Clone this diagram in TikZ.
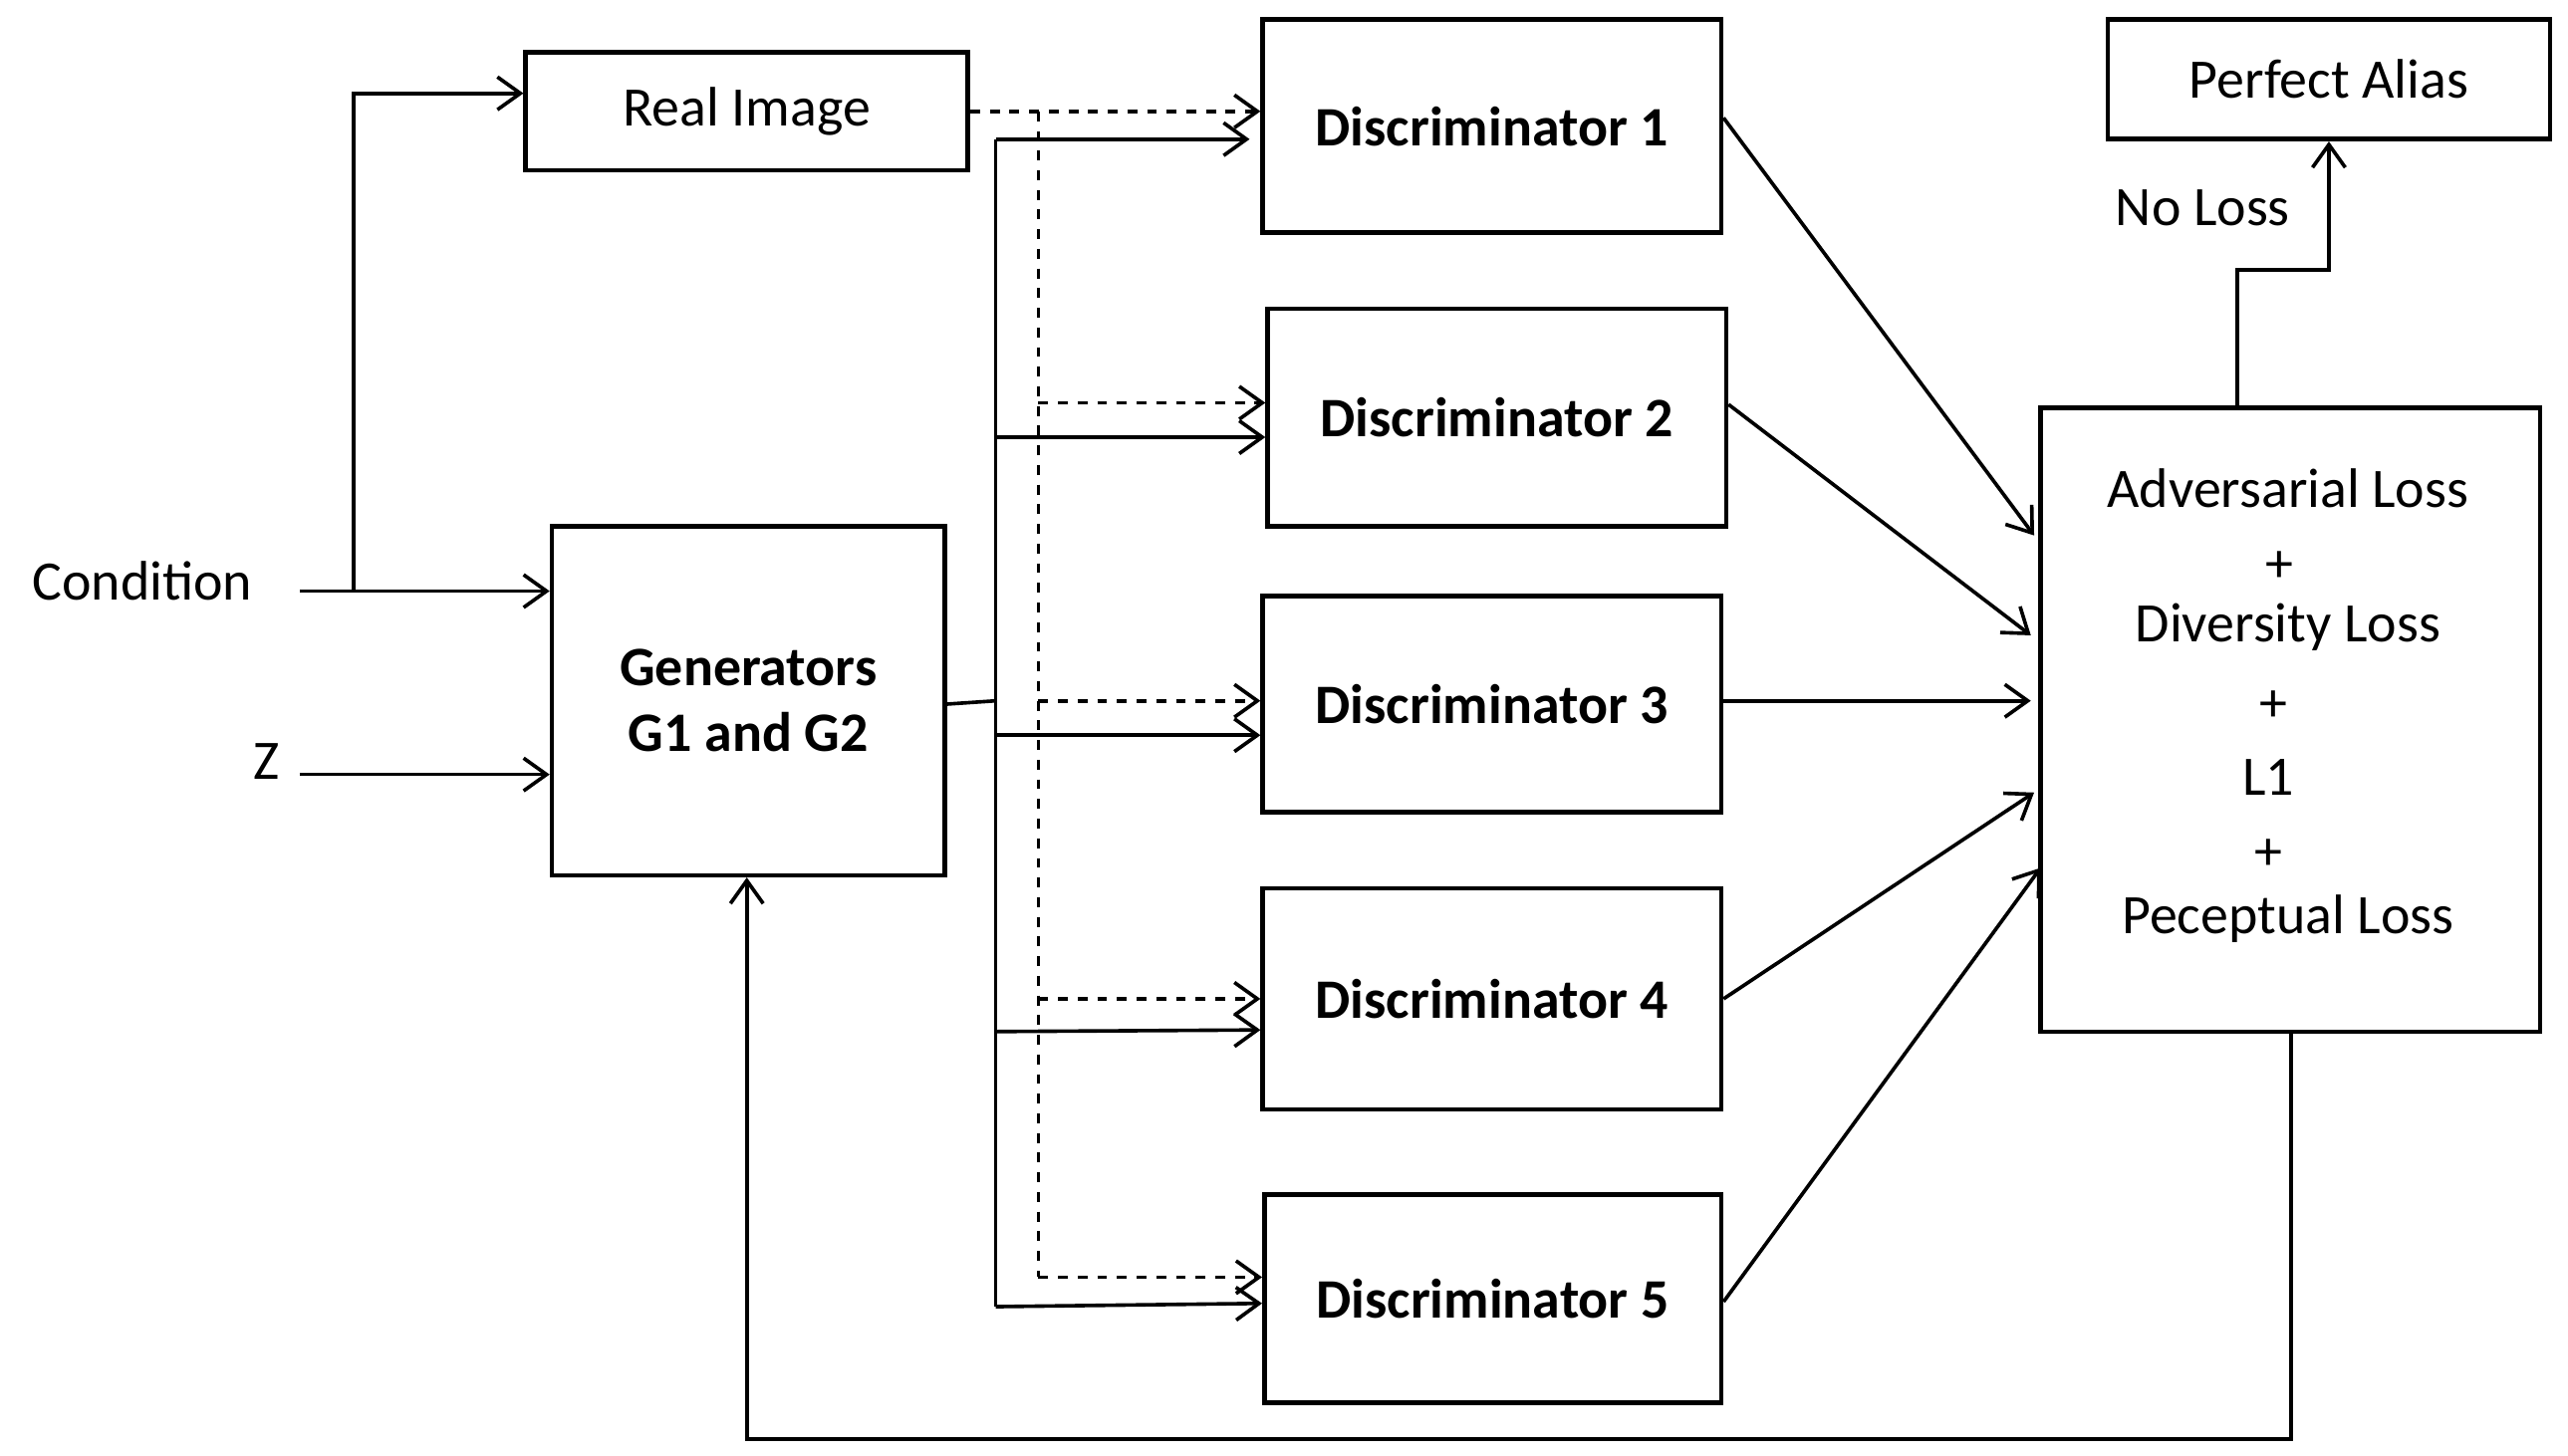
\documentclass[tikz,border=0pt]{standalone}
\usepackage{fontspec}
\setmainfont{Carlito}
\usetikzlibrary{arrows.meta}
\begin{document}
\begin{tikzpicture}[x=0.5pt,y=-0.5pt,
  box/.style={draw,line width=1.4pt,inner sep=0pt},
  ln/.style={line width=1.1pt},
  arr/.style={ln,-{Straight Barb[length=7pt,width=10pt]}},
  darr/.style={arr,dashed},
  dl/.style={font=\fontsize{17}{20}\selectfont\bfseries},
  nl/.style={font=\fontsize{17}{20}\selectfont}]
\useasboundingbox (0,0) rectangle (1568,889);
\node[box,minimum width=270pt*0.5,minimum height=36pt,nl] (real) at (456,68) {Real Image};
\node[box,minimum width=120pt,minimum height=106.5pt,dl,align=center] (gen) at (457,428) {Generators\\G1 and G2};
\node[box,minimum width=140pt,minimum height=65pt,dl] (d1) at (911,77) {Discriminator 1};
\node[box,minimum width=140pt,minimum height=66.5pt,dl] (d2) at (914,255) {Discriminator 2};
\node[box,minimum width=140pt,minimum height=66pt,dl] (d3) at (911,430) {Discriminator 3};
\node[box,minimum width=140pt,minimum height=67.5pt,dl] (d4) at (911,610) {Discriminator 4};
\node[box,minimum width=139.5pt,minimum height=63.5pt,dl] (d5) at (911.5,793) {Discriminator 5};
\node[box,minimum width=152.5pt,minimum height=190.5pt] (loss) at (1398.5,439.5) {};
\node[box,minimum width=135pt,minimum height=36.5pt,nl] (pa) at (1422,48.5) {Perfect Alias};
\node[nl] (cond) at (87,355) {Condition};
\node[nl] (z) at (163,465) {Z};
\node[nl] (nol) at (1345,127) {No Loss};
\node[nl] (t1) at (1397,298) {Adversarial Loss};
\node[nl] (p1) at (1392,346) {+};
\node[nl] (t2) at (1397,383) {Diversity Loss};
\node[nl] (p2) at (1388,431) {+};
\node[nl] (t3) at (1385,475) {L1};
\node[nl] (p3) at (1385,522) {+};
\node[nl] (t4) at (1397,561) {Peceptual Loss};
% inputs
\coordinate (c0) at (183,361);
\coordinate (cb) at (216,361);
\draw[arr] (c0) -- (gen.west|-c0);
\draw[arr] (cb) |- (real.west|-0,57);
\draw[arr] (183,473) -- (gen.west|-0,473);
% generator bus
\coordinate (bus) at (608,428);
\draw[ln] (gen.east|-0,430) -- (bus);
\draw[ln] (608,85) -- (608,798);
\draw[arr] (608,85) -- (763,85);
\draw[arr] (608,267) -- (d2.west|-0,267);
\draw[arr] (608,449) -- (d3.west|-0,449);
\draw[arr] (608,630) -- (d4.west|-0,629);
\draw[arr] (608,798) -- (d5.west|-0,796);
% dashed real bus
\draw[darr] (real.east|-0,68) -- (d1.west|-0,68);
\draw[ln,dashed] (634,68) -- (634,780);
\draw[darr] (634,246) -- (d2.west|-0,246);
\draw[darr] (634,428) -- (d3.west|-0,428);
\draw[darr] (634,610) -- (d4.west|-0,610);
\draw[darr] (634,780) -- (d5.west|-0,780);
% to loss
\draw[arr] (d1.east|-0,72) -- (1242,327);
\draw[arr] (d2.east|-0,247) -- (1240,388);
\draw[arr] (d3.east|-0,428) -- (1240,428);
\draw[arr] (d4.east|-0,610) -- (1242,484);
\draw[arr] (d5.east|-0,795) -- (1246,530);
% top
\draw[arr] (1366,249) -- (1366,165) -- (1422,165) -- (pa.south);
% feedback
\draw[arr] (1399,630) -- (1399,879) -- (456,879) -- (gen.south-|456,0);
\end{tikzpicture}
\end{document}
